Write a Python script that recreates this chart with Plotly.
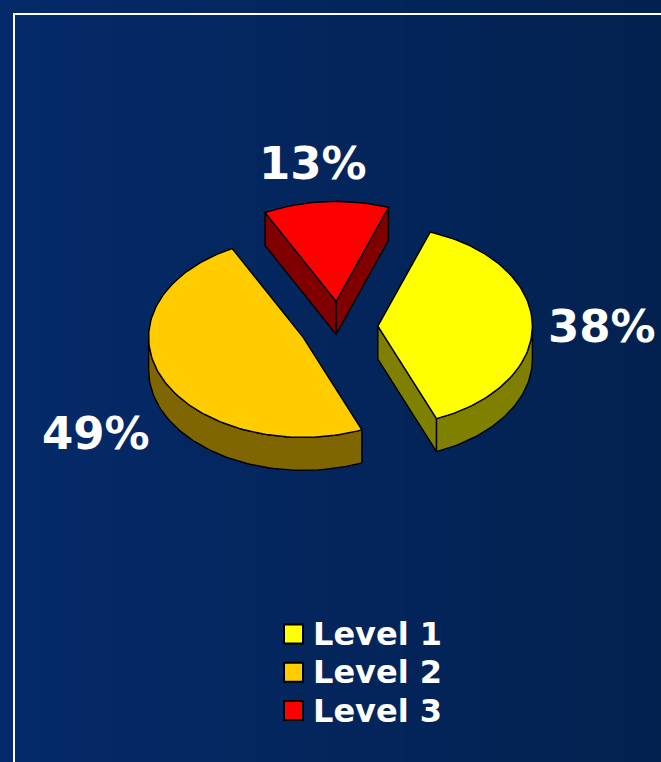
import math
import plotly.graph_objects as go

# Data
categories = ["Level 1", "Level 2", "Level 3"]
values = [38.3, 48.6, 13.1]
top_colors = ["#FFFF00", "#FFCC00", "#FF0000"]
side_colors = ["#808000", "#806600", "#800000"]

# Pie geometry (pixel space of the 661x762 page)
W, H = 661, 762
CX, CY = 338.7, 326.7
RX, RY = 154.5, 100.0
DEPTH = 33.0
EXPLODE = 0.2535
START_ANGLE = 19.8
LABEL_POS = [(601.5, 326), (95.5, 433), (313, 163)]
LEGEND_MARK_X, LEGEND_TEXT_X, LEGEND_Y0, LEGEND_DY = 293.5, 314, 634, 38.3
BG_LEFT, BG_RIGHT = "#042A69", "#03214F"


def pt(cx, cy, a, dz=0.0):
    r = math.radians(a)
    return cx + RX * math.sin(r), cy - RY * math.cos(r) + dz


def arc(cx, cy, a0, a1, dz=0.0, step=1.5):
    n = max(2, int(abs(a1 - a0) / step) + 1)
    return [pt(cx, cy, a0 + (a1 - a0) * i / (n - 1), dz) for i in range(n)]


def poly(points, color, name):
    xs = [p[0] for p in points] + [points[0][0]]
    ys = [p[1] for p in points] + [points[0][1]]
    return go.Scatter(x=xs, y=ys, mode="lines", fill="toself", fillcolor=color,
                      line=dict(color="#000000", width=1.4), hoverinfo="skip",
                      showlegend=False, name=name)


fig = go.Figure()
# gradient background
fig.add_trace(go.Heatmap(x=[0, W], y=[0, H], z=[[0, 1], [0, 1]], zsmooth="best",
                         colorscale=[[0, BG_LEFT], [1, BG_RIGHT]], showscale=False,
                         hoverinfo="skip"))

total = sum(values)
angle = START_ANGLE
for cat, v, top, side in zip(categories, values, top_colors, side_colors):
    a0, a1 = angle, angle + 360 * v / total
    angle = a1
    mid = math.radians((a0 + a1) / 2)
    ax = CX + EXPLODE * RX * math.sin(mid)
    ay = CY - EXPLODE * RY * math.cos(mid)
    # cut faces
    if math.sin(math.radians(a0)) < 0:
        p = pt(ax, ay, a0)
        fig.add_trace(poly([(ax, ay), p, (p[0], p[1] + DEPTH), (ax, ay + DEPTH)], side, cat))
    if math.sin(math.radians(a1)) > 0:
        p = pt(ax, ay, a1)
        fig.add_trace(poly([(ax, ay), p, (p[0], p[1] + DEPTH), (ax, ay + DEPTH)], side, cat))
    # outer rim (lower half of the ellipse only)
    r0, r1 = max(a0, 90), min(a1, 270)
    if r1 > r0:
        fig.add_trace(poly(arc(ax, ay, r0, r1) + arc(ax, ay, r1, r0, DEPTH), side, cat))
    # top face
    fig.add_trace(poly([(ax, ay)] + arc(ax, ay, a0, a1), top, cat))

annotations = []
for v, (x, y) in zip(values, LABEL_POS):
    annotations.append(dict(x=x, y=y, text=f"<b>{round(v)}%</b>", showarrow=False, xanchor="center",
                            yanchor="middle", font=dict(family="DejaVu Sans", size=45, color="white")))

for i, (cat, top) in enumerate(zip(categories, top_colors)):
    y = LEGEND_Y0 + LEGEND_DY * i
    fig.add_trace(go.Scatter(x=[LEGEND_MARK_X], y=[y], mode="markers", showlegend=False, hoverinfo="skip",
                             marker=dict(symbol="square", size=19, color=top,
                                         line=dict(color="black", width=2))))
    annotations.append(dict(x=LEGEND_TEXT_X, y=y, text=f"<b>{cat}</b>", showarrow=False, xanchor="left",
                            yanchor="middle", xshift=-3,
                            font=dict(family="DejaVu Sans", size=32, color="white")))

fig.update_layout(
    width=W, height=H, margin=dict(l=0, r=0, t=0, b=0), showlegend=False,
    paper_bgcolor=BG_RIGHT, plot_bgcolor=BG_RIGHT,
    xaxis=dict(range=[0, W], visible=False, fixedrange=True),
    yaxis=dict(range=[H, 0], visible=False, fixedrange=True),
    annotations=annotations,
    shapes=[dict(type="path", path=f"M {W} 14 L 14 14 L 14 {H}",
                 line=dict(color="#FFFFFF", width=2), layer="above")],
)
fig.write_html("out.html", config={"displayModeBar": False},
               post_script="document.body.style.margin='0';document.body.style.overflow='hidden';")
